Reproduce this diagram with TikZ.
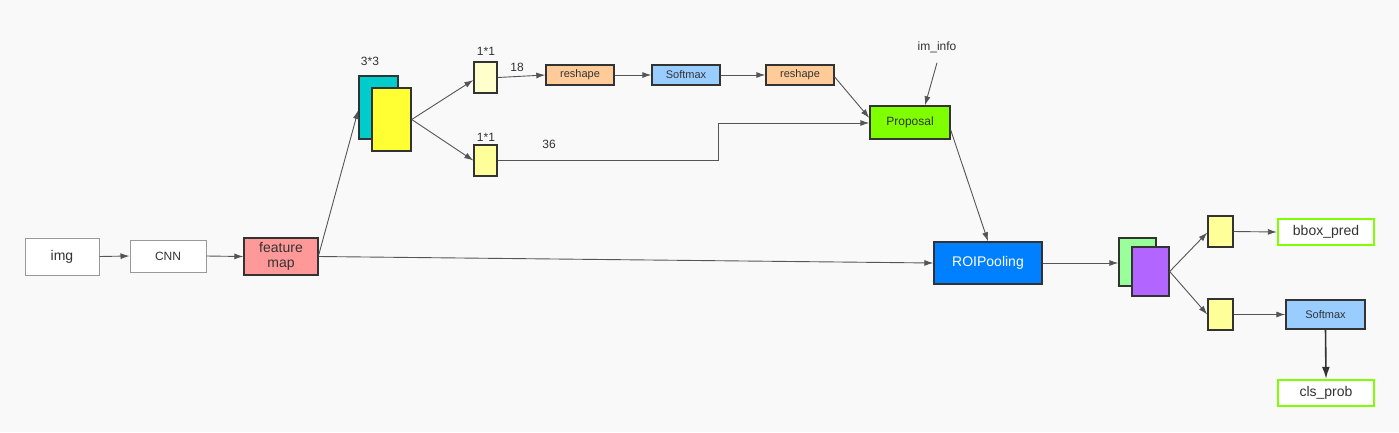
\documentclass[tikz,border=0pt]{standalone}
\usepackage{fontspec}
\setmainfont{Liberation Sans}
\usetikzlibrary{arrows.meta,calc}
\definecolor{bg}{HTML}{F9F9F9}
\definecolor{edge}{HTML}{333333}
\definecolor{ln}{HTML}{555555}
\definecolor{fmred}{HTML}{FF9999}
\definecolor{teal3}{HTML}{00CCCC}
\definecolor{yel3}{HTML}{FFFF33}
\definecolor{paley}{HTML}{FFFFCC}
\definecolor{lighty}{HTML}{FFFF99}
\definecolor{orng}{HTML}{FFCC99}
\definecolor{skyb}{HTML}{99CCFF}
\definecolor{lime}{HTML}{80FF00}
\definecolor{roib}{HTML}{007FFF}
\definecolor{mint}{HTML}{99FF99}
\definecolor{purp}{HTML}{B266FF}
\tikzset{
  box/.style={draw=edge, line width=1.4pt, inner sep=0pt, align=center, text=black!80},
  plainbox/.style={draw=gray!80, line width=1pt, fill=white, inner sep=0pt, align=center, text=black!80},
  outbox/.style={draw=lime, line width=2.4pt, fill=white, inner sep=0pt, text=black!80, font=\fontsize{14}{16}\selectfont},
  arr/.style={draw=ln, line width=0.9pt, -{Latex[length=9pt,width=6pt]}},
  lbl/.style={text=black!80, inner sep=0pt, font=\fontsize{11}{13}\selectfont}
}
\begin{document}
\begin{tikzpicture}[x=1pt,y=-1pt]
\fill[bg] (0,0) rectangle (1399,432);
\useasboundingbox (0,0) rectangle (1399,432);
% left chain
\node[plainbox, minimum width=74pt, minimum height=37pt, font=\fontsize{14}{16}\selectfont] (img) at (62,256.5) {img};
\node[plainbox, minimum width=76pt, minimum height=32pt, font=\fontsize{12}{14}\selectfont] (cnn) at (168,256) {CNN};
\node[box, fill=fmred, minimum width=74pt, minimum height=37pt, font=\fontsize{14}{15}\selectfont] (fm) at (281,256.5) {feature\\map};
% 3*3 conv
\node[box, fill=teal3, minimum width=39pt, minimum height=63pt] (teal) at (378.5,107.5) {};
\node[box, fill=yel3, minimum width=39pt, minimum height=63pt] (yel) at (391.5,119.5) {};
\node[lbl, font=\fontsize{12}{14}\selectfont] (l33) at (370,61) {3*3};
% 1*1 convs
\node[box, fill=paley, minimum width=23pt, minimum height=31pt] (t1) at (485.5,77.5) {};
\node[box, fill=lighty, minimum width=23pt, minimum height=31pt] (b1) at (485.5,160.5) {};
\node[lbl, font=\fontsize{12}{14}\selectfont] (l11a) at (486,51) {1*1};
\node[lbl, font=\fontsize{12}{14}\selectfont] (l11b) at (486,137) {1*1};
\node[lbl, font=\fontsize{12}{14}\selectfont] (l18) at (517,67) {18};
\node[lbl, font=\fontsize{12}{14}\selectfont] (l36) at (549,144) {36};
% rpn cls branch
\node[box, fill=orng, minimum width=68pt, minimum height=20pt, font=\fontsize{11}{13}\selectfont] (rs1) at (580,75) {reshape};
\node[box, fill=skyb, minimum width=68pt, minimum height=20pt, font=\fontsize{11}{13}\selectfont] (sm1) at (686,75) {Softmax};
\node[box, fill=orng, minimum width=68pt, minimum height=20pt, font=\fontsize{11}{13}\selectfont] (rs2) at (800,75) {reshape};
% proposal
\node[box, fill=lime, minimum width=80pt, minimum height=33pt, font=\fontsize{12}{14}\selectfont] (prop) at (910,122.5) {Proposal};
\node[lbl, font=\fontsize{12}{14}\selectfont] (iminfo) at (937,47) {im\_info};
% roi pooling
\node[box, fill=roib, text=white, minimum width=108pt, minimum height=42pt, font=\fontsize{14}{16}\selectfont] (roi) at (988,263) {ROIPooling};
% fc
\node[box, fill=mint, minimum width=37pt, minimum height=48pt] (green) at (1137.5,262) {};
\node[box, fill=purp, minimum width=37pt, minimum height=49pt] (purple) at (1150.5,271.5) {};
\node[box, fill=lighty, minimum width=25pt, minimum height=31pt] (st) at (1220.5,231.5) {};
\node[box, fill=lighty, minimum width=25pt, minimum height=31pt] (sb) at (1220.5,314.5) {};
\node[outbox, minimum width=96pt, minimum height=26pt] (bbox) at (1326,232) {bbox\_pred};
\node[box, fill=skyb, minimum width=79pt, minimum height=29pt, font=\fontsize{11}{13}\selectfont] (sm2) at (1325.5,314.5) {Softmax};
\node[outbox, minimum width=96pt, minimum height=26pt] (cls) at (1326,393) {cls\_prob};
% connectors
\draw[arr] (img.east) -- (cnn.west);
\draw[arr] (cnn.east) -- (fm.west);
\draw[arr] ([yshift=1.5pt]fm.east) -- ([yshift=-2.5pt]teal.west);
\draw[arr] (yel.east) -- ([yshift=-2.5pt]t1.west);
\draw[arr] (yel.east) -- (b1.west);
\draw[arr] (t1.east) -- (rs1.west);
\draw[arr] (rs1.east) -- (sm1.west);
\draw[arr] (sm1.east) -- (rs2.west);
\draw[arr] ([yshift=-2pt]rs2.east) -- ([yshift=4.5pt]prop.west);
\coordinate (bend) at (718,123);
\draw[arr] (b1.east) -| (bend) -- (bend -| prop.west);
\draw[arr] ([yshift=-10pt]iminfo.south) -- ([xshift=15pt]prop.north);
\draw[arr] ([yshift=-7.5pt]prop.east) -- (roi.north);
\draw[arr] (fm.east) -- (roi.west);
\draw[arr] (roi.east) -- ([yshift=-1pt]green.west);
\draw[arr] (purple.east) -- ([yshift=-1pt]st.west);
\draw[arr] (purple.east) -- (sb.west);
\draw[arr] (st.east) -- (bbox.west);
\draw[arr] (sb.east) -- (sm2.west);
\draw[draw=edge, line width=1.6pt, -{Latex[length=12pt,width=8pt]}] (sm2.south) -- (cls.north);
\end{tikzpicture}
\end{document}
